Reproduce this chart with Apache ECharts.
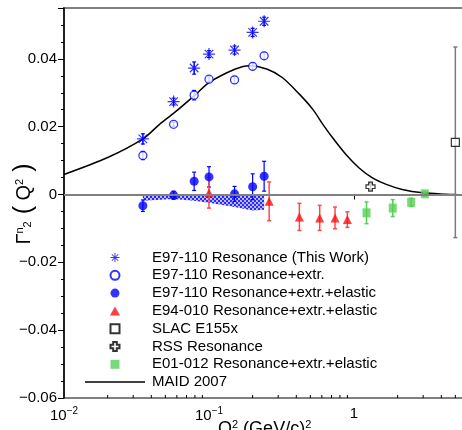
<!DOCTYPE html>
<html>
<head>
<meta charset="utf-8">
<title>Gamma2 neutron</title>
<script src="https://cdn.jsdelivr.net/npm/echarts@6.0.0/dist/echarts.min.js"></script>
<style>
  html, body { margin: 0; padding: 0; background: #fff; }
  #chart { width: 462px; height: 430px; }
</style>
</head>
<body>
<div id="chart"></div>
<script>
// E97-110 (this work), same Q2 for all three E97-110 sets
var q2E97 = [0.035, 0.057, 0.079, 0.100, 0.150, 0.200, 0.240];
var g2Res = [0.0164, 0.0274, 0.0373, 0.0414, 0.0426, 0.0478, 0.0511];
var errRes = [0.0015, 0.0010, 0.0018, 0.0010, 0.0012, 0.0012, 0.0012];
var g2Ext = [0.0115, 0.0207, 0.0293, 0.0340, 0.0338, 0.0378, 0.0409];
var errExt = [0.0012, 0.0006, 0.0014, 0.0008, 0.0010, 0.0010, 0.0010];
var g2El = [-0.0033, -0.0002, 0.0039, 0.0052, 0.0002, 0.0023, 0.0054];
var errEl = [0.0017, 0.0012, 0.0027, 0.0030, 0.0022, 0.0038, 0.0044];
// systematic band (below zero)
var sysLow = [-0.0018, -0.0013, -0.0018, -0.0024, -0.0037, -0.0047, -0.0045];

// E94-010
var q2E94 = [0.10, 0.26, 0.42, 0.58, 0.74, 0.90];
var g2E94 = [0.0005, -0.0020, -0.0066, -0.0069, -0.0069, -0.0074];
var errE94 = [0.0045, 0.0057, 0.0040, 0.0037, 0.0032, 0.0023];

// SLAC E155x
var q2Slac = [5.0];
var g2Slac = [0.0154];
var errSlac = [0.0281];

// RSS
var q2Rss = [1.30];
var g2Rss = [0.0023];
var errRss = [0.0010];

// E01-012
var q2E01 = [1.22, 1.85, 2.48, 3.08];
var g2E01 = [-0.0054, -0.0040, -0.0023, 0.0002];
var errE01 = [0.0032, 0.0025, 0.0012, 0.0006];

// MAID 2007
var q2Maid = [0.01, 0.02, 0.035, 0.0456, 0.058, 0.08, 0.1, 0.152, 0.19, 0.25, 0.32, 0.42, 0.52, 0.61, 0.71, 0.88, 1.08, 1.34, 1.67, 2.15, 2.99, 4.3, 5.1];
var g2Maid = [0.0059, 0.0109, 0.0164, 0.0207, 0.0242, 0.0293, 0.0330, 0.0370, 0.0380, 0.0370, 0.0345, 0.0296, 0.0251, 0.0207, 0.0168, 0.0118, 0.0079, 0.0049, 0.0030, 0.0015, 0.0005, 0.0001, 0.0];

// minor ticks on the log axis
var xMinorTicks = [0.02, 0.03, 0.04, 0.05, 0.06, 0.07, 0.08, 0.09, 0.2, 0.3, 0.4, 0.5, 0.6, 0.7, 0.8, 0.9, 2, 3, 4, 5, 6, 7, 8, 9];

var FONT = 'Liberation Sans, Arial, sans-serif';
var BLUE = '#0000ff';
var RED = '#ff1010';
var GREEN = '#55d055';

var starPath = 'path://M9,0L11,0L11,20L9,20Z M0,9L20,9L20,11L0,11Z M3.6,2.2L17.8,16.4L16.4,17.8L2.2,3.6Z M17.8,3.6L3.6,17.8L2.2,16.4L16.4,2.2Z';
var plusPath = 'path://M3,0L7,0L7,3L10,3L10,7L7,7L7,10L3,10L3,7L0,7L0,3L3,3Z';
var squarePath = 'path://M0,0L10,0L10,10L0,10Z';
var triPath = 'path://M5,0L10,9L0,9Z';
var linePath = 'path://M0,0L40,0L40,1L0,1Z';

function pts(xs, ys) {
  return xs.map(function (x, i) { return [x, ys[i]]; });
}

function errSeries(xs, ys, es, color, width) {
  return {
    type: 'custom',
    silent: true,
    z: 3,
    data: xs.map(function (x, i) { return [x, ys[i] - es[i], ys[i] + es[i]]; }),
    encode: { x: 0, y: [1, 2] },
    renderItem: function (params, api) {
      var lo = api.coord([api.value(0), api.value(1)]);
      var hi = api.coord([api.value(0), api.value(2)]);
      var st = { stroke: color, lineWidth: width || 1.2 };
      return {
        type: 'group',
        children: [
          { type: 'line', shape: { x1: lo[0], y1: lo[1], x2: hi[0], y2: hi[1] }, style: st },
          { type: 'line', shape: { x1: lo[0] - 2, y1: lo[1], x2: lo[0] + 2, y2: lo[1] }, style: st },
          { type: 'line', shape: { x1: hi[0] - 2, y1: hi[1], x2: hi[0] + 2, y2: hi[1] }, style: st }
        ]
      };
    }
  };
}

// hatch pattern for the systematic band: blue with small white holes
var pat = document.createElement('canvas');
pat.width = 4; pat.height = 4;
var pc = pat.getContext('2d');
pc.fillStyle = '#2a2aff';
pc.fillRect(0, 0, 4, 4);
pc.fillStyle = '#fff';
pc.beginPath(); pc.arc(1, 1, 0.9, 0, Math.PI * 2); pc.fill();
pc.beginPath(); pc.arc(3, 3, 0.9, 0, Math.PI * 2); pc.fill();

var chart = echarts.init(document.getElementById('chart'));

chart.setOption({
  animation: false,
  backgroundColor: '#fff',
  textStyle: { fontFamily: FONT },
  grid: {
    left: 64, top: 8, width: 435, height: 390,
    outerBoundsMode: 'none',
    containLabel: false,
    show: true, borderColor: '#808080', borderWidth: 2
  },
  xAxis: {
    type: 'log',
    logBase: 10,
    min: 0.01,
    max: 10,
    axisLine: { lineStyle: { color: '#000', width: 1.5 } },
    axisTick: { length: 5, lineStyle: { color: '#000' } },
    splitLine: { show: false },
    axisLabel: {
      margin: 8,
      color: '#000',
      fontSize: 15,
      formatter: function (v) {
        var e = Math.round(Math.log(v) / Math.LN10);
        if (e === 0) return '1';
        if (e === 1) return '10';
        return '{b|10}{s|\u2212' + Math.abs(e) + '}';
      },
      rich: {
        b: { fontSize: 15, color: '#000', fontFamily: FONT },
        s: { fontSize: 10, color: '#000', fontFamily: FONT, padding: [0, 0, 9, 0] }
      }
    }
  },
  yAxis: {
    type: 'value',
    min: -0.06,
    max: 0.055,
    interval: 0.02,
    axisLine: { show: true, lineStyle: { color: '#000', width: 1.5 } },
    axisTick: { show: true, length: 6, lineStyle: { color: '#000' } },
    minorTick: { show: true, splitNumber: 4, length: 3, lineStyle: { color: '#000' } },
    splitLine: { show: false },
    axisLabel: {
      margin: 7,
      color: '#000',
      fontSize: 15,
      formatter: function (v) {
        var r = Math.round(v / 0.02);
        if (Math.abs(v - r * 0.02) > 1e-6) return '';
        if (r === 0) return '0';
        return (v < 0 ? '\u2212' : '') + Math.abs(v).toFixed(2);
      }
    }
  },
  legend: {
    orient: 'vertical',
    left: 80,
    top: 245,
    itemWidth: 60,
    itemHeight: 9,
    itemGap: 2.8,
    textStyle: { fontSize: 15, color: '#000', fontFamily: FONT, padding: [0, 0, 0, 2] },
    data: [
      'E97-110 Resonance (This Work)',
      'E97-110 Resonance+extr.',
      'E97-110 Resonance+extr.+elastic',
      'E94-010 Resonance+extr.+elastic',
      'SLAC E155x',
      'RSS Resonance',
      'E01-012 Resonance+extr.+elastic',
      { name: 'MAID 2007', icon: linePath }
    ]
  },
  graphic: [
    {
      type: 'text',
      x: 24, y: 204,
      rotation: Math.PI / 2,
      style: {
        text: '{g|\u0393}{s|n}{d|2}{p| (}{q| Q}{s|2}{p| )}',
        align: 'center',
        verticalAlign: 'middle',
        rich: {
          g: { fontSize: 20, fontFamily: FONT, fill: '#000' },
          s: { fontSize: 11, fontFamily: FONT, fill: '#000', padding: [0, 0, 9, 0] },
          d: { fontSize: 11, fontFamily: FONT, fill: '#000', padding: [8, 0, 0, 0] },
          p: { fontSize: 25, fontFamily: FONT, fill: '#000' },
          q: { fontSize: 20, fontFamily: FONT, fill: '#000' }
        }
      }
    },
    {
      type: 'text',
      x: 218, y: 419,
      style: {
        text: '{q|Q}{s|2}{q| (GeV/c)}{s|2}',
        align: 'left',
        verticalAlign: 'top',
        rich: {
          q: { fontSize: 18, fontFamily: FONT, fill: '#000' },
          s: { fontSize: 11, fontFamily: FONT, fill: '#000', padding: [0, 0, 10, 0] }
        }
      }
    }
  ],
  series: [
    {
      name: 'sys',
      type: 'line',
      data: pts(q2E97, sysLow),
      symbol: 'none',
      lineStyle: { width: 0 },
      areaStyle: { origin: 0, color: { image: pat, repeat: 'repeat' }, opacity: 1 },
      z: 1,
      silent: true
    },
    {
      name: 'MAID 2007',
      type: 'line',
      data: pts(q2Maid, g2Maid),
      smooth: 0.3,
      symbol: 'none',
      lineStyle: { color: '#000', width: 1.5 },
      itemStyle: { color: '#000' },
      z: 2,
      markLine: {
        silent: true,
        symbol: 'none',
        label: { show: false },
        lineStyle: { color: '#808080', width: 2, type: 'solid' },
        data: [{ yAxis: 0 }]
      }
    },
    {
      name: 'minor',
      type: 'custom',
      silent: true,
      data: xMinorTicks.map(function (x) { return [x, -0.06]; }),
      encode: { x: 0, y: 1 },
      clip: false,
      renderItem: function (params, api) {
        var p = api.coord([api.value(0), api.value(1)]);
        return { type: 'line', shape: { x1: p[0], y1: p[1], x2: p[0], y2: p[1] - 3 }, style: { stroke: '#000', lineWidth: 1 } };
      }
    },
    errSeries(q2E97, g2Res, errRes, BLUE),
    errSeries(q2E97, g2Ext, errExt, BLUE),
    errSeries(q2E97, g2El, errEl, BLUE),
    errSeries(q2E94, g2E94, errE94, '#ff4a4a', 1.5),
    errSeries(q2Slac, g2Slac, errSlac, '#7a7a7a', 1.5),
    errSeries(q2Rss, g2Rss, errRss, '#000'),
    errSeries(q2E01, g2E01, errE01, GREEN, 1.5),
    {
      name: 'E97-110 Resonance (This Work)',
      type: 'scatter',
      data: pts(q2E97, g2Res),
      symbol: starPath,
      symbolSize: 12,
      itemStyle: { color: BLUE },
      z: 4
    },
    {
      name: 'E97-110 Resonance+extr.',
      type: 'scatter',
      data: pts(q2E97, g2Ext),
      symbol: 'circle',
      symbolSize: 8,
      itemStyle: { color: '#fff', borderColor: BLUE, borderWidth: 1.3 },
      z: 4
    },
    {
      name: 'E97-110 Resonance+extr.+elastic',
      type: 'scatter',
      data: pts(q2E97, g2El),
      symbol: 'circle',
      symbolSize: 9,
      itemStyle: { color: BLUE },
      z: 4
    },
    {
      name: 'E94-010 Resonance+extr.+elastic',
      type: 'scatter',
      data: pts(q2E94, g2E94),
      symbol: triPath,
      symbolSize: 9,
      itemStyle: { color: RED },
      z: 4
    },
    {
      name: 'SLAC E155x',
      type: 'scatter',
      data: pts(q2Slac, g2Slac),
      symbol: squarePath,
      symbolSize: 8,
      itemStyle: { color: '#fff', borderColor: '#000', borderWidth: 1.2 },
      z: 4
    },
    {
      name: 'RSS Resonance',
      type: 'scatter',
      data: pts(q2Rss, g2Rss),
      symbol: plusPath,
      symbolSize: 9,
      itemStyle: { color: '#fff', borderColor: '#000', borderWidth: 1.2 },
      z: 4
    },
    {
      name: 'E01-012 Resonance+extr.+elastic',
      type: 'scatter',
      data: pts(q2E01, g2E01),
      symbol: squarePath,
      symbolSize: [8, 9],
      itemStyle: { color: GREEN },
      z: 4
    }
  ]
});
</script>
</body>
</html>
